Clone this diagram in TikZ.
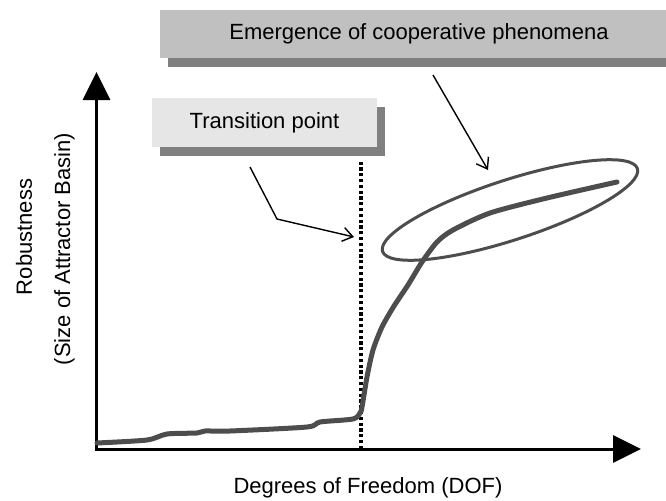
\documentclass[tikz,border=0pt]{standalone}
\usepackage{fontspec}
\setmainfont{Liberation Sans}
\usepackage{tikz}
\usetikzlibrary{arrows.meta,shadows,positioning}
\definecolor{curvegray}{HTML}{4D4D4D}
\definecolor{boxlight}{HTML}{E6E6E6}
\definecolor{boxmid}{HTML}{C0C0C0}
\definecolor{shadowgray}{HTML}{808080}

\begin{document}
\begin{tikzpicture}[x=0.5pt,y=0.5pt,font=\fontsize{11}{13}\selectfont,
    axis/.style={line width=1.5pt,-{Triangle[length=14pt,width=13.5pt]}},
    pointer/.style={line width=0.7pt,-{Straight Barb[length=5pt,width=7pt]}},
    banner/.style={inner sep=0pt,minimum height=24pt,
        drop shadow={shadow xshift=4pt,shadow yshift=-4.5pt,fill=shadowgray,opacity=1}}]
    \useasboundingbox (0,0) rectangle (666,500);

    % Axes
    \coordinate (O) at (95.3,51);
    \coordinate (xtip) at (641,51);
    \coordinate (ybase) at (96.5,50.3);
    \coordinate (ytip) at (96.5,428);
    \draw[axis] (ybase) -- (ytip);
    \draw[axis] (O) -- (xtip);

    \node[rotate=90,anchor=base] (rob) at (32,263) {Robustness};
    \node[rotate=90,anchor=base] (basin) at (70,251) {(Size of Attractor Basin)};
    \node[anchor=base] (dof) at (368,7) {Degrees of Freedom (DOF)};

    % Transition line
    \coordinate (tpbot) at (361,51);
    \coordinate (tptop) at (361,338);
    \draw[line width=1.7pt,dash pattern=on 1.6pt off 1.3pt] (tpbot) -- (tptop);

    % Robustness curve
    \draw[curvegray,line width=2.5pt,line join=round,line cap=round]
        plot[smooth,tension=0.45] coordinates {(97,57) (147,60) (167,66) (197,67) (205,69)
        (230,69) (307,73) (320,78) (353,81) (360,87) (362,93) (367,123) (373,150)
        (382,173) (394,194) (408,215) (422,238) (437,258) (453,270) (490,287)
        (547,302) (617,318)};

    % Emergence region
    \draw[curvegray,line width=1.5pt,rotate around={18:(510,290)}]
        (510,290) ellipse [x radius=134,y radius=30];

    % Labels
    \node[banner,fill=boxmid,minimum width=259pt] (emerg) at (419,466)
        {Emergence of cooperative phenomena};
    \node[banner,fill=boxlight,minimum width=112.5pt,minimum height=24.5pt] (trans) at (264.5,377.5)
        {Transition point};

    \coordinate (t1) at (250,333);
    \coordinate (t2) at (277,281);
    \coordinate (t3) at (354,263);
    \draw[pointer] (t1) -- (t2) -- (t3);

    \coordinate (e1) at (433,425);
    \coordinate (e2) at (488,330);
    \draw[pointer] (e1) -- (e2);
\end{tikzpicture}
\end{document}
